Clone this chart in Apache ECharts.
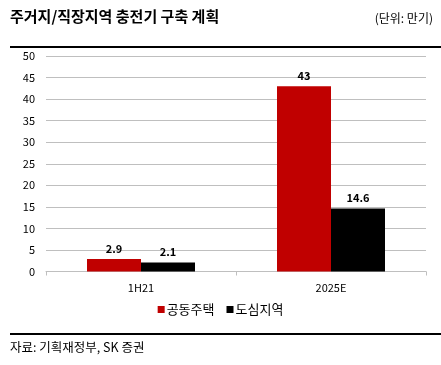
<!DOCTYPE html>
<html><head><meta charset="utf-8">
<script src="https://cdn.jsdelivr.net/npm/echarts@6/dist/echarts.min.js"></script>
<style>html,body{margin:0;padding:0;background:#fff}#c{width:441px;height:365px}</style>
</head><body><div id="c"></div>
<script>
const categories = ['1H21', '2025E'];
const seriesNames = ['공동주택', '도심지역'];
const apartment = [2.9, 43];
const downtown = [2.1, 14.6];
const yTicks = [0, 5, 10, 15, 20, 25, 30, 35, 40, 45, 50];

const font = '"Noto Sans CJK KR", "Noto Sans", sans-serif';
const chart = echarts.init(document.getElementById('c'));
chart.setOption({
  animation: false,
  textStyle: { fontFamily: font },
  graphic: [
    { type: 'text', left: 10, top: 9, style: { text: '주거지/직장지역 충전기 구축 계획', font: 'bold 15px ' + font, fill: '#000' } },
    { type: 'text', right: 8, top: 12, style: { text: '(단위: 만기)', font: '12px ' + font, fill: '#000' } },
    { type: 'rect', shape: { x: 10, y: 46, width: 431, height: 2 }, style: { fill: '#000' } },
    { type: 'rect', shape: { x: 10, y: 333, width: 431, height: 2 }, style: { fill: '#000' } },
    { type: 'text', left: 10, top: 341, style: { text: '자료: 기획재정부, SK 증권', font: '12.5px ' + font, fill: '#000' } }
  ],
  grid: { left: 46, right: 15, top: 56, bottom: 93.5 },
  legend: {
    data: seriesNames, bottom: 44, left: 'center', itemWidth: 7, itemHeight: 7, itemGap: 12,
    icon: 'rect', textStyle: { fontSize: 13, color: '#000', fontFamily: font, padding: [0, 0, 0, -3] }
  },
  xAxis: {
    type: 'category', data: categories,
    axisLine: { lineStyle: { color: '#bfbfbf' } },
    axisTick: { show: true, alignWithLabel: false, lineStyle: { color: '#bfbfbf' }, length: 4 },
    axisLabel: { color: '#000', fontSize: 11, margin: 11 }
  },
  yAxis: {
    type: 'value', min: yTicks[0], max: yTicks[yTicks.length - 1], interval: 5,
    axisLine: { show: false }, axisTick: { show: false },
    axisLabel: { color: '#000', fontSize: 11, margin: 11 },
    splitLine: { lineStyle: { color: '#bfbfbf' } }
  },
  series: [
    { name: seriesNames[0], type: 'bar', data: apartment, barWidth: 54, barGap: '0%',
      itemStyle: { color: '#C00000' },
      label: { show: true, position: 'top', fontWeight: 'bold', fontSize: 11, color: '#000', distance: 5 } },
    { name: seriesNames[1], type: 'bar', data: downtown, barWidth: 54,
      itemStyle: { color: '#000000' },
      label: { show: true, position: 'top', fontWeight: 'bold', fontSize: 11, color: '#000', distance: 5 } }
  ]
});
</script></body></html>
